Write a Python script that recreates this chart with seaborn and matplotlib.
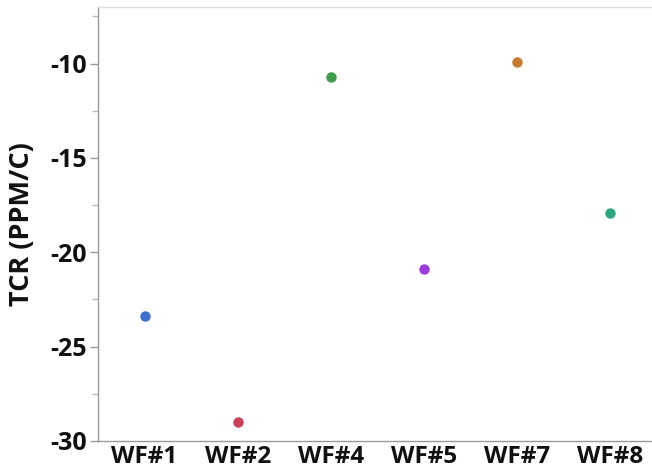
import matplotlib
matplotlib.use("Agg")
import matplotlib.pyplot as plt
import seaborn as sns
import pandas as pd
from matplotlib.ticker import MultipleLocator

categories = ["WF#1", "WF#2", "WF#4", "WF#5", "WF#7", "WF#8"]
tcr_values = [-23.4, -29.0, -10.7, -20.9, -9.9, -17.9]
colors = ["#3f6fd1", "#c94058", "#3d9c4c", "#9a3ddb", "#c87b2c", "#2ba684"]
y_ticks = [-30, -25, -20, -15, -10]

df = pd.DataFrame({"wafer": categories, "tcr": tcr_values})

sns.set_style("white")
plt.rcParams['font.family'] = ['Open Sans', 'DejaVu Sans']
plt.rcParams['axes.unicode_minus'] = False

fig = plt.figure(figsize=(6.52, 4.76), dpi=100)
ax = fig.add_axes([98/652, 35/476, 1 - 98/652, (441-7)/476])

sns.stripplot(data=df, x="wafer", y="tcr", hue="wafer", palette=colors,
              order=categories, jitter=False, size=7.5, linewidth=0,
              legend=False, ax=ax)

ax.set_ylim(-30, -7)
ax.set_xlim(-0.5, 5.45)
ax.set_yticks(y_ticks)
ax.yaxis.set_minor_locator(MultipleLocator(2.5))
ax.set_xlabel("")
ax.set_ylabel("TCR (PPM/C)", fontsize=19.5, fontweight="bold", labelpad=11,
              color="#111111")
ax.tick_params(axis="y", which="major", length=6, width=1, color="#999999",
               labelsize=18, pad=2, left=True, labelcolor="#111111")
ax.tick_params(axis="y", which="minor", length=4, width=1, color="#bbbbbb", left=True)
ax.tick_params(axis="x", length=0, labelsize=17.5, pad=3, labelcolor="#111111")
for lab in ax.get_xticklabels() + ax.get_yticklabels():
    lab.set_fontweight("bold")

for side in ["left", "bottom", "top"]:
    ax.spines[side].set_color("#999999")
    ax.spines[side].set_linewidth(1)
ax.spines["top"].set_color("#dddddd")
ax.spines["right"].set_visible(False)

fig.savefig("out.png", dpi=100)
